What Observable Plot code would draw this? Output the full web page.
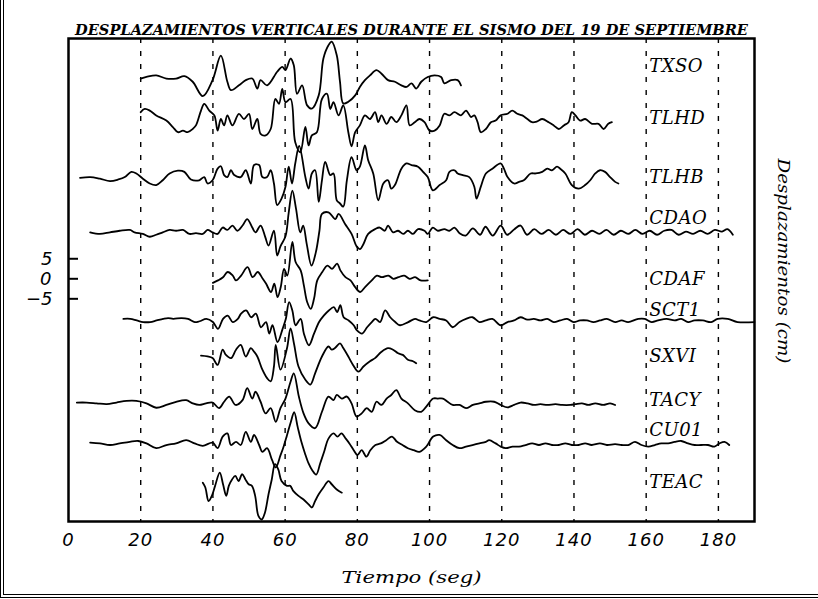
<!DOCTYPE html>
<html>
<head>
<meta charset="utf-8">
<script src="https://cdn.jsdelivr.net/npm/d3@7"></script>
<script src="https://cdn.jsdelivr.net/npm/@observablehq/plot@0.6"></script>
<style>
  html, body { margin: 0; padding: 0; background: #fff; }
  #fig { position: relative; width: 818px; height: 599px; overflow: hidden; }
  #fig svg { position: absolute; left: 0; top: 0; }
  #edge { position: absolute; left: 0; top: 0; width: 818px; height: 594px;
          border-left: 4px double #000; border-bottom: 4px double #000;
          box-sizing: content-box; pointer-events: none; }
</style>
</head>
<body>
<div id="fig"><div id="edge"></div></div>
<script>
// Vertical displacement records, [time (s), displacement (cm)] about each trace's own baseline
const TXSO = [[20,0],[21.6,0.4],[24.3,0.8],[27.1,0],[29.8,0],[32.1,0.6],[34.4,-0.8],[37.2,-4.4],[39.9,-0.4],[42.2,5.7],[44,-0.8],[45,-2.9],[47.2,-1.7],[49.1,-0.4],[50.9,0],[52.3,-2.5],[53.2,-0.4],[55,-1.7],[57.8,1.7],[59.2,2.9],[60.1,2.1],[61.5,5],[62.4,3.3],[63.3,-3.8],[64.7,-1.7],[66.1,-6.7],[67.4,-7.5],[69.3,-4.2],[70.6,5],[72,8.3],[72.9,9.2],[74.3,5.8],[75.2,-0.8],[76.1,-6.2],[77.5,-5.8],[79.4,-4.2],[80.7,-2.1],[82.1,-0.4],[83.5,0.8],[85.3,2.1],[86.7,1.2],[88.5,-0.4],[90.4,-0.8],[92.2,-1.7],[93.6,-2.1],[95,-1.2],[96.3,-2.5],[97.7,-0.8],[99.5,0.4],[101.4,0.8],[103.2,0.4],[104.1,-1.2],[106,-0.4],[107.8,-0.4],[108.7,-1.7]];
const TLHD = [[20,0],[21.1,0.8],[22.5,0.4],[24.3,-0.8],[27.1,-2.1],[28.9,-3.7],[30.3,-5],[31.7,-4.6],[33,-5],[34.4,-4.2],[35.3,-3.3],[36.7,0.4],[37.6,2.1],[39,0.4],[40.4,-0.8],[41.3,-4.6],[42.2,-1.7],[43.1,-3.3],[44,-0.8],[45.4,-3.3],[47.2,-0.4],[48.6,-1.7],[50,-0.4],[50.9,-4.2],[52.3,-1.7],[53.2,-5.4],[54.6,-5.8],[56,-4.2],[57.3,3.3],[58.3,2.1],[59.2,5.8],[60.1,2.5],[61.5,3.3],[62.8,-7.5],[64.2,-10],[65.6,-3.7],[66.5,-8.3],[67.4,-5.8],[68.8,-5],[70.2,3.3],[71.6,4.6],[72.5,0.8],[73.4,2.5],[74.8,-0.8],[76.1,1.7],[77.5,-5],[78.4,-8.5],[79.4,-5],[80.7,-3.3],[82.1,-0.8],[83.5,-1.7],[84.9,0],[85.8,-2.5],[86.7,-0.8],[88.1,-2.9],[89.4,-1.2],[90.8,-2.5],[92.2,-0.8],[93.6,1.7],[94.5,-3.3],[95.9,-2.5],[97.2,-1.7],[98.6,-2.5],[100,-4.6],[101.4,-4.6],[102.8,-3.3],[104.1,-0.4],[105.5,-0.8],[106.9,0],[108.7,-0.8],[110.1,0.4],[111.5,-1.2],[112.4,-0.8],[113.3,-2.5],[114.2,-5],[115.6,-4.2],[117,-2.5],[118.3,-2.1],[119.7,-0.8],[121.6,-0.4],[122.9,0.4],[124.3,-0.4],[125.7,-0.8],[127.1,-1.7],[128.4,-2.5],[129.8,-2.3],[131.2,-1.7],[133,-2.5],[134.4,-3.3],[135.8,-4.2],[137.2,-3.3],[138.5,-2.5],[139.4,0],[140.4,-0.8],[141.7,-2.1],[143.1,-1.7],[145,-2.9],[146.8,-2.9],[148.2,-4.2],[149.5,-2.9],[150.5,-2.5]];
const TLHB = [[3.2,0],[6,0.2],[8.7,-0.2],[11.5,-0.8],[13.8,-0.4],[15.6,0.2],[17.4,1.5],[18.8,1.1],[20.6,-0.2],[22.5,-1.4],[24.3,-1.8],[26.1,-0.6],[28,1.1],[30.3,1.8],[32.1,1.5],[33.9,-0.4],[36.2,-0.6],[37.6,0.2],[38.5,-1.4],[39.9,-0.6],[41.3,2.3],[42.2,2.9],[43.1,0.7],[44,0.2],[45,1.9],[45.9,0.7],[47.7,0.2],[49.1,1.9],[50.5,-1.4],[51.4,3.2],[52.8,3.2],[53.7,0.2],[55,0.2],[56,1.9],[56.9,-1.4],[57.8,-6.8],[59,-5.2],[60.1,-2.2],[61,2.8],[61.9,-1.4],[62.8,3.6],[63.9,8],[65.6,0.2],[66.5,-2.7],[67.4,1.1],[68.3,1.9],[69.3,-6],[70.2,-0.6],[71.1,4],[72.5,0.7],[73.4,1.1],[74.3,-5.6],[75.2,-6.4],[76.1,-7.2],[77.1,-0.6],[78.4,5.2],[79.8,1.9],[80.7,2.8],[82.1,8.1],[83,4.4],[84.4,1.1],[85.8,-5.6],[87.2,-1.4],[88.5,-0.6],[89.4,-2.7],[90.4,-1.8],[92.2,2.3],[93.6,3.6],[95,3.2],[96.8,2.8],[98.2,1.5],[99.5,0.2],[100.9,-3.1],[102.8,-1.8],[104.6,-0.6],[105.5,1.5],[106.9,1.9],[107.8,1.1],[109.2,0.7],[111,0.2],[112.4,-2.2],[113,-5.2],[114.2,-2.2],[115.6,1.1],[117.4,2.3],[119.7,3.6],[120.6,2.3],[121.6,0.2],[123.4,-1.4],[124.8,-1],[126.1,-0.6],[128,1.1],[129.4,1.1],[131.2,1.5],[132.6,2.3],[133.9,1.9],[135.3,2.8],[136.2,2.3],[137.6,1.1],[139.4,-1.8],[141.3,-2.7],[143.1,-1.8],[144.5,-0.6],[145.9,1.1],[147.2,1.9],[148.6,1.5],[150,0.2],[151.4,-1],[152.3,-1.4]];
const CDAO = [[6,0],[8.7,-0.4],[11.5,0],[14.2,0.4],[17,0.6],[18.3,0],[20.6,-0.4],[22.5,-1.1],[24.3,-0.6],[26.1,0],[28,0.6],[29.8,0.4],[31.7,0.6],[33.5,-0.4],[35.3,-0.2],[37.2,-0.4],[38.5,0.6],[39.9,0],[41.3,-0.4],[42.7,1.2],[44,0.6],[45.4,1.7],[46.8,0.4],[48.2,1.7],[49.5,3.3],[50.9,1.2],[51.8,0],[53.2,1.7],[54.5,-1.2],[55.4,-3.3],[56.9,0.4],[57.8,-5.8],[58.7,-3.5],[60.1,-1],[61,5],[62,10.4],[63,6],[64.2,0],[65,1.7],[66,-3],[67.3,-8.3],[68.5,-5],[69.5,0.4],[70.2,4.6],[72,5],[73.9,3.3],[74.8,4.6],[76.6,2.1],[78.4,-0.4],[79.8,-3.5],[80.7,-4.2],[81.7,-2.9],[83,-0.4],[84.9,0.8],[86.2,1.2],[87.6,0.4],[88.5,1.7],[89.9,0],[91.3,0.4],[92.7,-0.4],[94,0.4],[95.4,-0.4],[96.8,0.8],[98.6,0.4],[99.5,-0.4],[100.9,1.2],[102.3,0.4],[104.1,0.8],[105.5,0.4],[106.9,1.2],[108.3,-0.2],[110,-0.8],[112,1],[114,-0.6],[115.5,1.4],[117.5,-0.8],[119.7,1.7],[121.5,-0.6],[123.5,0.8],[125.2,1.7],[127,-0.6],[129,0.8],[131,-0.4],[133,0.6],[135,-0.6],[137,0.6],[139,-0.4],[141,0.8],[143,-0.6],[145,0.4],[147,-0.4],[149,0.6],[151,-0.6],[153,0.4],[155,-0.4],[157,0.6],[159,-0.4],[161,0.4],[163,-0.6],[165,0.4],[167,0.6],[169,-0.6],[171,0.2],[173,-0.4],[175,0.4],[177,-0.4],[179,0.6],[181,0.2],[182.5,0.8],[184,-0.6]];
const CDAF = [[40,-1],[41.4,-0.4],[42.8,0.4],[44.1,1.7],[45.5,0.8],[46.4,-0.4],[47.8,0.8],[49.6,2.9],[51,0.4],[52.4,1.7],[53.8,0],[54.7,-1.2],[56.1,-3.3],[57,-1.2],[57.9,-4.6],[58.8,-2],[59.7,2.5],[60.6,0.8],[62,9.2],[62.9,4.2],[64.3,2.1],[65.2,-1.7],[66.1,-5.8],[67.1,-7.5],[68,-5],[68.9,-0.4],[70.3,1.7],[71.7,3.3],[73,2.5],[74.4,3.8],[75.3,2.1],[76.7,0.4],[78.1,-0.4],[79.4,-2.1],[80.8,-3.3],[82.2,-2],[84,-0.4],[85.4,0.8],[86.8,0.4],[88.6,0.8],[90,0],[91.4,0.4],[93,0.8],[94.5,0],[96,0.4],[97.5,-0.4],[99.5,-0.4]];
const SCT1 = [[15.2,0.4],[17.1,0.4],[18.9,0],[20.7,-0.4],[22.6,-0.4],[24.4,0],[26.2,0.4],[27.6,0.6],[29,0.4],[31.3,0.6],[33.1,0.4],[35,-0.4],[36.3,-0.2],[38.2,0.4],[40,-0.4],[41.4,-2.1],[42.8,0.4],[44.1,1.2],[45.5,-0.4],[46.9,0.4],[47.8,1.7],[49.2,2.5],[50.6,0.8],[51.9,1.7],[53.3,-1.7],[54.7,-0.4],[55.6,-3.3],[56.5,-1.2],[57.9,-5.4],[59.3,-2.1],[60.2,0.4],[61.1,4.6],[62,2.5],[62.9,-1.2],[64.3,0.4],[65.2,-3.3],[66.6,-6.2],[68,-3.3],[69.4,-0.4],[70.7,1.2],[72.1,2.5],[73.5,3.3],[74.4,2.1],[75.3,3.8],[76.2,0.8],[77.6,0],[79,-1.2],[79.9,-2.5],[81.3,-3.3],[82.7,-1.7],[84,-0.4],[85,0.4],[86.3,-0.4],[87.7,2.5],[89.1,0.8],[90.5,-0.4],[91.8,-1.2],[94.1,-0.4],[96,0.4],[97.2,0],[99.1,-0.4],[101,0.8],[102.8,0.4],[104.6,0],[106.4,-1.7],[108.3,-0.4],[110.1,0.4],[111.9,0.8],[113.8,-0.4],[115.6,0],[117.4,0.4],[119.7,-1.2],[121.6,-0.4],[123.4,0],[125.2,0.8],[127.1,0.2],[128.9,0.4],[130.7,0],[132.6,0.4],[134.4,-0.4],[136.2,0],[138.1,0.4],[139.9,-0.4],[141.7,0],[143.6,0],[145.4,-0.4],[147.2,0],[149.1,0.4],[151.4,-0.4],[153.2,0],[155,-0.4],[157.8,0.4],[159.6,0.4],[161.5,-0.4],[163.3,0],[165.6,0.4],[167.9,0],[169.7,0.4],[171.6,-0.4],[173.4,0],[175.7,0],[178,-0.4],[179.8,0.4],[182.6,0.4],[185.3,-0.4],[190,-0.4]];
const SXVI = [[36.7,0.2],[38.5,0],[39.9,-0.4],[41.3,-2.1],[42.7,1.7],[43.6,0.4],[45,-0.4],[46.4,1.7],[47.7,2.9],[49.1,0],[50.5,2.1],[51.4,1.2],[52.3,0],[53.7,-3.3],[55,-5.4],[56,-6.2],[56.9,-2.5],[57.4,2.9],[58.7,-3.3],[60.5,2],[61.5,7],[62.5,3],[63.7,-2.5],[65.6,-5.8],[67,-7],[68.3,-4.2],[70.2,0],[72,2.5],[72.9,1.7],[73.8,2.1],[75.2,3.3],[76.1,2.1],[77.5,0],[78.8,-2.1],[80.3,-3.8],[81.7,-2.5],[83.5,-1.2],[84.9,-0.4],[86.7,1.2],[88.5,2.1],[89.9,1.7],[91.3,0.8],[92.6,0.4],[94,-0.8],[95.4,-1.2],[96.3,-1.7]];
const TACY = [[2.3,0.2],[5,0.2],[7.8,0],[10.6,-0.2],[13.3,0.2],[16.1,0.6],[18.8,0.6],[21.6,0],[24.3,-1.1],[27.1,-0.4],[29.8,0.4],[32.6,0.8],[34.4,0],[36.2,-0.4],[38.1,0],[39.9,0.2],[41.7,-1.2],[43.1,0.4],[44.5,1.7],[46.3,-0.4],[48.2,0.8],[49.5,3.8],[50.9,1.2],[51.8,2.9],[53.2,0.4],[54.6,-2.5],[56,-1.2],[57.4,-4.6],[58.7,-1.2],[60.1,1.2],[61.5,5.4],[62.4,7.5],[63.8,1.7],[65.1,-2.5],[66.5,-5],[68.3,-6.2],[70.2,-2.1],[72,1.7],[73.4,0.8],[74.3,2.1],[75.7,1.2],[77.1,1.7],[78.4,0],[79.8,-3.3],[81.2,-2.5],[82.6,-1.2],[84,-2.1],[85.3,0.4],[86.7,-0.4],[88.1,1.2],[89.4,2.1],[90.8,3.3],[92.2,1.2],[94,0],[95.9,-1.7],[97.7,-2.1],[99.1,-0.8],[101,1.2],[102.3,1.2],[103.7,1.2],[105,0.4],[106.4,-0.4],[108.3,-0.4],[110.1,-1.2],[112,-0.4],[113.8,0],[115.6,0.4],[117.9,0.4],[119.7,-0.4],[121.6,-1],[123.4,-0.4],[125.2,0.2],[127.1,0],[128.9,-0.4],[130.7,-0.2],[132.6,-0.4],[134.9,-0.2],[136.7,-0.4],[139,-0.4],[140.4,-0.2],[142.2,0],[144,-0.4],[145.9,0],[148.1,-0.4],[150,0],[151.4,-0.4]];
const CU01 = [[6,0.2],[8.7,0],[11.5,-0.4],[14.2,0],[17,0.4],[19.3,0.6],[21.6,0],[24.3,-1.2],[27.1,-0.4],[29.8,0],[32.6,0.8],[34.9,0],[37.2,-0.6],[39.9,0.2],[41.3,-1.2],[42.7,1.7],[44,2.5],[45,-0.4],[46.4,0.4],[47.7,-0.4],[49.1,2.9],[50.5,0.4],[51.4,2.1],[52.8,-0.4],[53.7,-2.1],[55,-1.2],[56.4,-4.2],[57.4,-6],[58.7,-3],[59.5,-1],[60.5,2],[61.6,5.4],[62.5,7.8],[63.5,4],[64.5,0.4],[65.5,-2.5],[66.5,-5],[67.5,-6.7],[68.6,-7.8],[69.7,-5],[70.8,-2.1],[72,1.2],[73.4,2.5],[74.5,1.7],[75.6,2.5],[76.8,1.2],[77.8,0],[79,-1.7],[80,-2.9],[81.2,-1.7],[82.5,-3.3],[83.6,-1.7],[85,-0.4],[86.5,0],[88,0.8],[89.6,1.7],[91,0.4],[92.5,-0.4],[94,-1.2],[95.6,-1.7],[97.2,-2.1],[99.1,-0.8],[101,1.7],[102.8,2.1],[104.6,0.8],[106.4,-0.4],[108.3,-1.2],[110.1,-0.8],[111.9,-0.4],[113.8,0],[115.6,0.4],[116.5,0.8],[118.3,0],[119.7,-0.8],[121.1,-1.2],[123,-0.8],[124.8,-0.8],[126.6,-0.4],[128.4,0],[130.3,-0.4],[132.1,0],[133.9,-0.4],[135.8,-0.4],[137.6,0],[139.4,-0.4],[141.3,-0.4],[143.1,0],[144.9,-0.4],[147.2,0],[149.1,-0.4],[151.4,-0.2],[153.2,-0.4],[155,-0.4],[156.9,0.4],[158.7,-0.4],[160.6,-0.8],[162.4,-0.4],[164.2,0],[166.1,0],[167.9,0.4],[169.7,0.6],[171.6,0],[173.4,-0.4],[175.2,-0.4],[177.1,-0.4],[178.9,-0.8],[180.3,0],[181.7,0.4],[183,-0.4]];
const TEAC = [[37.2,0],[37.9,-1.2],[38.8,-4.6],[39.7,-3.3],[40.6,-0.8],[41.9,2.5],[42.8,-0.4],[43.7,-3.3],[44.4,-0.8],[45.3,0.8],[46.2,1.7],[47.1,0.4],[48.1,2.1],[49,0.8],[49.9,-0.4],[50.8,-0.8],[51.7,-3.3],[52.6,-8.3],[53.5,-9.2],[54.4,-7.5],[55.4,-2.9],[56.3,0.8],[57.2,4.6],[58.1,3.3],[59,0.4],[60.5,-0.8],[61.4,-0.8],[62.3,-2.1],[63.7,-3.3],[65.1,-4.2],[66.5,-5.4],[67.4,-6.2],[68.3,-4.6],[69.3,-2.9],[70.6,-1.2],[72,0.4],[72.9,-0.4],[74.3,-1.7],[75.7,-2.5]];

// Stations from top to bottom and the vertical offset (cm) of each trace
const stations = ["TXSO", "TLHD", "TLHB", "CDAO", "CDAF", "SCT1", "SXVI", "TACY", "CU01", "TEAC"];
const baselines = [50, 41.6, 25.2, 11.6, 0, -10.4, -19.4, -31.1, -41.1, -50.9];
const records = {TXSO, TLHD, TLHB, CDAO, CDAF, SCT1, SXVI, TACY, CU01, TEAC};

// Axis ticks and texts
const xTicks = [0, 20, 40, 60, 80, 100, 120, 140, 160, 180];
const gridTimes = [20, 40, 60, 80, 100, 120, 140, 160, 180];
const yTicks = [-5, 0, 5];
const title = "DESPLAZAMIENTOS VERTICALES DURANTE EL SISMO DEL 19 DE SEPTIEMBRE";
const xLabel = "Tiempo (seg)";
const yLabel = "Desplazamientos (cm)";

// Label nudges (px) of each station name relative to its trace
const labelDy = [-12, 6, -1, -14, 0, -10, 0, -3, -13, 0];

const traces = stations.flatMap((s, i) =>
  records[s].map(([t, d]) => ({station: s, t, u: d + baselines[i]})));

const serif = "DejaVu Serif";
const sans = "DejaVu Sans";

const chart = Plot.plot({
  width: 818,
  height: 599,
  marginLeft: 68,
  marginRight: 64,
  marginTop: 38,
  marginBottom: 78,
  x: {domain: [0, 190]},
  y: {domain: [-60.6, 60]},
  style: {background: "transparent", color: "#000"},
  marks: [
    Plot.ruleX(gridTimes, {stroke: "#000", strokeWidth: 1.4, strokeDasharray: "5,8"}),
    Plot.line(traces, {x: "t", y: "u", z: "station", curve: "catmull-rom",
      stroke: "#000", strokeWidth: 1.8, strokeLinejoin: "round"}),
    ...stations.map((s, i) => Plot.text([s], {
      x: () => gridTimes[7], y: () => baselines[i], dx: 3, dy: labelDy[i],
      textAnchor: "start", fontFamily: serif, fontStyle: "italic", fontSize: 18, fill: "#000"
    })),
    Plot.frame({stroke: "#000", strokeWidth: 2.5}),
    Plot.axisX({ticks: xTicks, tickSize: 0, tickPadding: 12, label: null,
      fontFamily: sans, fontStyle: "italic", fontSize: 18}),
    Plot.axisY({ticks: yTicks, tickSize: -10, tickPadding: 26, label: null,
      strokeWidth: 2, fontFamily: sans, fontStyle: "italic", fontSize: 18}),
    Plot.text([title], {frameAnchor: "top", dy: -8, lineAnchor: "middle", textAnchor: "middle",
      fontFamily: serif, fontWeight: "bold", fontStyle: "italic", fontSize: 15, fill: "#000"}),
    Plot.text([xLabel], {frameAnchor: "bottom", dy: 56, lineAnchor: "middle", textAnchor: "middle",
      fontFamily: serif, fontStyle: "italic", fontSize: 16, fill: "#000"}),
    Plot.text([yLabel], {frameAnchor: "right", dx: 29, dy: -19, rotate: 90,
      lineAnchor: "middle", textAnchor: "middle",
      fontFamily: serif, fontStyle: "italic", fontSize: 16, fill: "#000"})
  ]
});

// Stretch the long texts to their printed widths
const svg = d3.select(chart);
svg.selectAll("text").each(function () {
  const s = this.textContent;
  const el = d3.select(this);
  if (s === title) el.attr("textLength", 673).attr("lengthAdjust", "spacingAndGlyphs");
  if (s === xLabel) el.attr("textLength", 140).attr("lengthAdjust", "spacingAndGlyphs");
  if (s === yLabel) el.attr("textLength", 205).attr("lengthAdjust", "spacingAndGlyphs");
  if (stations.includes(s)) el.style("letter-spacing", "0.5px");
  if (xTicks.map(String).includes(s)) el.style("letter-spacing", "1px");
});

document.getElementById("fig").prepend(chart);
</script>
</body>
</html>
